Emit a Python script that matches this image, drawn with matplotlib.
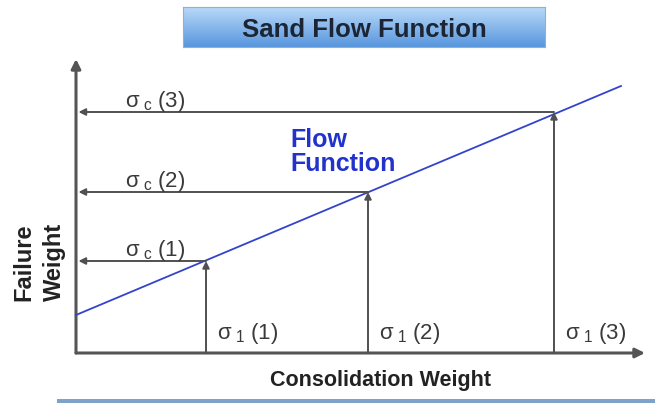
import numpy as np
import matplotlib
matplotlib.use("Agg")
import matplotlib.pyplot as plt

plt.rcParams['font.family'] = ['Liberation Sans', 'DejaVu Sans']
plt.rcParams['mathtext.fontset'] = 'custom'
plt.rcParams['mathtext.rm'] = 'Liberation Sans'

# data (arbitrary units, 1 unit ~ 50 px in the reference)
consolidation = [2.6, 5.84, 9.56]
failure = [1.84, 3.22, 4.82]
point_ids = ["1", "2", "3"]
ff_x = [0.0, 10.9]
ff_y = [0.76, 5.34]

W, H = 655, 406
fig = plt.figure(figsize=(W / 100, H / 100), dpi=100)

# main axes, placed in pixel terms
x0, y0, x1, y1 = 76, 354, 645, 60
ax = fig.add_axes([x0 / W, (H - y0) / H, (x1 - x0) / W, (y0 - y1) / H])
ax.set_xlim(0, (x1 - x0) / 50)
ax.set_ylim(0, (y0 - y1) / 50)
ax.axis('off')

axis_col = '#555555'
line_col = '#505050'
lab_col = '#3a3a3a'

# axes with arrows
ax.annotate('', xy=(1, 0), xytext=(0, 0), xycoords='axes fraction',
            arrowprops=dict(arrowstyle='-|>', color=axis_col, lw=2.2,
                            mutation_scale=14, shrinkA=0, shrinkB=0))
ax.annotate('', xy=(0, 1), xytext=(0, 0), xycoords='axes fraction',
            arrowprops=dict(arrowstyle='-|>', color=axis_col, lw=2.2,
                            mutation_scale=14, shrinkA=0, shrinkB=0))

# flow function
ax.plot(ff_x, ff_y, color='#3344cc', lw=1.3, clip_on=False, zorder=3)

for cx, fy, pid in zip(consolidation, failure, point_ids):
    # vertical arrow up to the line
    ax.annotate('', xy=(cx, fy), xytext=(cx, 0),
                arrowprops=dict(arrowstyle='-|>', color=line_col, lw=1.4,
                                mutation_scale=10, shrinkA=0, shrinkB=0))
    # horizontal arrow to the y axis
    ax.annotate('', xy=(0.05, fy), xytext=(cx, fy),
                arrowprops=dict(arrowstyle='-|>', color=line_col, lw=1.4,
                                mutation_scale=10, shrinkA=0, shrinkB=0))
    ax.text(cx + 0.22, 0.3, r'$\mathregular{σ_{\;1}\;(' + pid + r')}$',
            fontsize=16, color=lab_col, va='baseline', ha='left')
    ax.text(0.98, fy + 0.12, r'$\mathregular{σ_{\;c}\;(' + pid + r')}$',
            fontsize=16, color=lab_col, va='baseline', ha='left')

ax.text(4.28, 4.04, 'Flow\nFunction', color='#2233cc', fontsize=18,
        fontweight='bold', ha='left', va='center', linespacing=1.0)

# axis labels
fig.text(380 / W, 1 - 381 / H, 'Consolidation Weight', fontsize=15.5,
         fontweight='bold', ha='center', va='center', color='#222222')
fig.text(39 / W, 1 - 262 / H, 'Failure\nWeight', fontsize=17,
         fontweight='bold', ha='center', va='center', rotation=90,
         color='#222222', linespacing=1.4)

# title box with vertical gradient
tax = fig.add_axes([183 / W, 1 - 48 / H, (545 - 183) / W, 40 / H])
grad = np.linspace(0, 1, 64).reshape(-1, 1)
top = np.array([185, 217, 248]) / 255
bot = np.array([88, 150, 222]) / 255
img = top + (bot - top) * grad[:, :, None]
tax.imshow(img, aspect='auto', extent=[0, 1, 0, 1])
tax.set_xlim(0, 1)
tax.set_ylim(0, 1)
tax.set_xticks([])
tax.set_yticks([])
for s in tax.spines.values():
    s.set_color('#8fb0d6')
    s.set_linewidth(0.8)
tax.text(0.5, 0.46, 'Sand Flow Function', fontsize=18.5, fontweight='bold',
         ha='center', va='center', color='#1c2533')

# bottom rule
lax = fig.add_axes([57 / W, 1 - 404 / H, (W - 57) / W, 4 / H])
lax.axis('off')
lax.axhline(0.5, color='#7ea3c8', lw=3)
lax.set_xlim(0, 1)

fig.savefig('out.png', dpi=100)
